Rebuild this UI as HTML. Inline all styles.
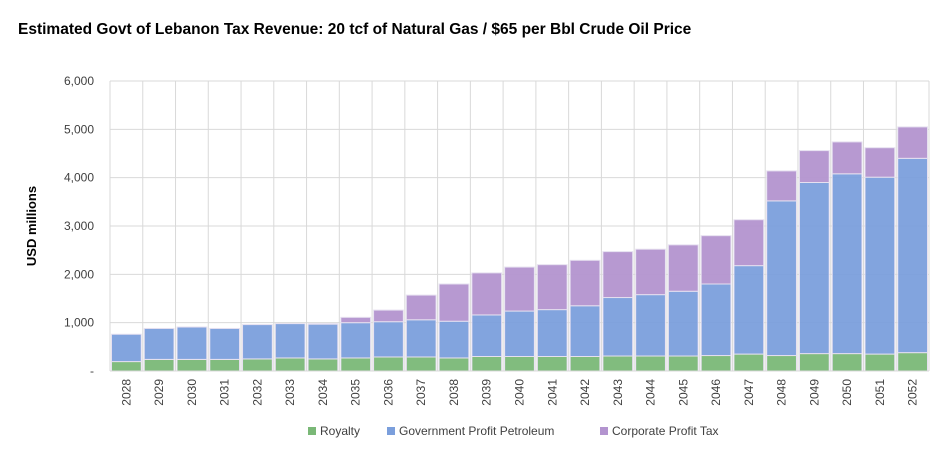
<!DOCTYPE html>
<html><head><meta charset="utf-8"><style>
body{margin:0;background:#fff;font-family:"Liberation Sans",sans-serif;}
svg text{font-family:"Liberation Sans",sans-serif;}
</style></head><body>
<svg width="946" height="456" id="c"></svg>
<script>
const years=["2028","2029","2030","2031","2032","2033","2034","2035","2036","2037","2038","2039","2040","2041","2042","2043","2044","2045","2046","2047","2048","2049","2050","2051","2052"];
const royalty=[195,240,240,240,250,270,250,270,290,290,270,300,300,300,300,310,310,310,320,350,320,360,360,350,380];
const govProfit=[565,640,670,640,710,710,720,730,730,770,760,860,940,970,1050,1210,1270,1340,1480,1830,3200,3540,3720,3660,4020];
const corpTax=[0,0,0,0,0,0,10,110,240,510,770,870,910,930,940,950,940,960,1000,950,620,660,660,610,650];
const yTicks=[0,1000,2000,3000,4000,5000,6000];
const yTickLabels=["-","1,000","2,000","3,000","4,000","5,000","6,000"];
const NS="http://www.w3.org/2000/svg",svg=document.getElementById('c');
const x0=110,x1=929,y0=371,y1=81,yMax=6000;
const bw=(x1-x0)/years.length;
const Y=v=>y0-(v/yMax)*(y0-y1);
const X=i=>x0+i*bw;
function mk(t,a,p){const e=document.createElementNS(NS,t);for(const k in a)e.setAttribute(k,a[k]);(p||svg).appendChild(e);return e;}
let t=mk('text',{x:18,y:34,'font-size':15.5,'font-weight':'bold',fill:'#000'});t.textContent="Estimated Govt of Lebanon Tax Revenue: 20 tcf of Natural Gas / $65 per Bbl Crude Oil Price";


yTicks.forEach((v,i)=>{
 const g=mk('line',{x1:x0,x2:x1,y1:Y(v),y2:Y(v),stroke:'#d9d9d9','stroke-width':1});
 
 
 const l=mk('text',{x:94,y:Y(v)+4,'text-anchor':'end','font-size':12,fill:'#404040'});l.textContent=yTickLabels[i];
 
 
});
for(let i=0;i<=years.length;i++){
 const g=mk('line',{x1:X(i),x2:X(i),y1:y1,y2:y0,stroke:'#d9d9d9','stroke-width':1});
 
 
}
const yt=mk('text',{transform:'translate(36,226) rotate(-90)','text-anchor':'middle','font-size':13,'font-weight':'bold',fill:'#000'});yt.textContent="USD millions";


const cols=['#7ab877','#7b9fdc','#b394cf'];
years.forEach((yr,i)=>{
 const vals=[royalty[i],govProfit[i],corpTax[i]];let base=0;
 vals.forEach((v,s)=>{
  if(v>0){const r=mk('rect',{x:X(i)+1.5,y:Y(base+v),width:bw-3,height:Y(base)-Y(base+v),fill:cols[s],stroke:'#e6e0f0','stroke-width':1,'fill-opacity':0.95});
  
  }
  base+=v;
 });
 const l=mk('text',{transform:`translate(${X(i)+bw/2+4},${y0+8}) rotate(-90)`,'text-anchor':'end','font-size':12,fill:'#404040'});l.textContent=yr;
 
 
});
mk('line',{x1:x0,x2:x1,y1:y0,y2:y0,stroke:'#d9d9d9'});
const leg=[["Royalty",320],["Government Profit Petroleum",399],["Corporate Profit Tax",612]];
leg.forEach((d,s)=>{
 const r=mk('rect',{x:d[1]-12,y:427,width:8,height:8,fill:cols[s]});
 
 
 const l=mk('text',{x:d[1],y:435,'font-size':12,fill:'#404040'});l.textContent=d[0];
 
 
});
</script>
</body></html>
